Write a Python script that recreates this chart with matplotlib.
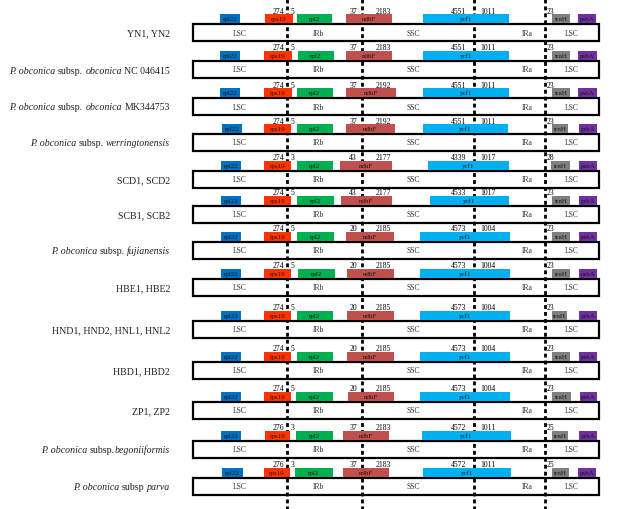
import matplotlib
matplotlib.use("Agg")
import matplotlib.pyplot as plt
from matplotlib.patches import Rectangle

plt.rcParams['font.family'] = ['Liberation Serif', 'DejaVu Serif']

# ---------------------------------------------------------------- data
# each sample label is a list of (piece, italic, space_before_next)
sample_labels = [
    [("YN1, YN2", False, True)],
    [("P. obconica", True, True), ("subsp.", False, True), ("obconica", True, True), ("NC 046415", False, True)],
    [("P. obconica", True, True), ("subsp.", False, True), ("obconica", True, True), ("MK344753", False, True)],
    [("P. obconica", True, True), ("subsp.", False, True), ("werringtonensis", True, True)],
    [("SCD1, SCD2", False, True)],
    [("SCB1, SCB2", False, True)],
    [("P. obconica", True, True), ("subsp.", False, True), ("fujianensis", True, True)],
    [("HBE1, HBE2", False, True)],
    [("HND1, HND2, HNL1, HNL2", False, True)],
    [("HBD1, HBD2", False, True)],
    [("ZP1, ZP2", False, True)],
    [("P. obconica", True, True), ("subsp.", False, False), ("begoniiformis", True, True)],
    [("P. obconica", True, True), ("subsp", False, True), ("parva", True, True)],
]

region_names = ["LSC", "IRb", "SSC", "IRa", "LSC"]
region_label_x = [240, 318, 413, 527, 572]
junction_x = [287, 362, 474, 545]

gene_names = ["rpl22", "rps19", "rpl2", "ndhF", "ycf1", "trnH", "psbA"]
gene_colors = ["#0070C0", "#FF3300", "#00B050", "#C0504D", "#00B0F0", "#7F7F7F", "#7030A0"]

# gene extents along the drawn map, one value per sample
rpl22_start = [220, 220, 220, 222, 221, 221, 221, 221, 221, 221, 221, 221, 222]
rpl22_end   = [240, 240, 240, 242, 241, 241, 241, 241, 241, 241, 241, 241, 243]
rps19_start = [265, 264, 264, 264, 264, 264, 264, 264, 264, 264, 264, 265, 264]
rps19_end   = [293, 292, 292, 291, 291, 291, 291, 291, 291, 291, 291, 290, 290]
rpl2_start  = [297, 298, 297, 297, 297, 297, 297, 298, 297, 297, 296, 296, 295]
rpl2_end    = [332, 334, 333, 333, 333, 334, 334, 335, 333, 333, 333, 333, 333]
ndhF_start  = [346, 346, 346, 346, 340, 341, 346, 347, 347, 347, 348, 343, 343]
ndhF_end    = [392, 392, 396, 395, 392, 392, 394, 394, 394, 394, 394, 389, 389]
ycf1_start  = [423, 423, 423, 423, 428, 430, 420, 420, 420, 420, 420, 422, 423]
ycf1_end    = [509, 509, 509, 508, 509, 509, 510, 510, 510, 510, 510, 511, 511]
trnH_start  = [552, 552, 552, 552, 551, 552, 552, 552, 552, 552, 552, 552, 552]
trnH_end    = [570, 570, 570, 568, 570, 570, 570, 570, 567, 570, 571, 568, 569]
psbA_start  = [578, 578, 578, 579, 579, 579, 579, 579, 579, 579, 580, 579, 578]
psbA_end    = [596, 597, 597, 597, 597, 597, 597, 597, 597, 597, 597, 597, 596]

gene_starts = [rpl22_start, rps19_start, rpl2_start, ndhF_start, ycf1_start, trnH_start, psbA_start]
gene_ends = [rpl22_end, rps19_end, rpl2_end, ndhF_end, ycf1_end, trnH_end, psbA_end]

# distances (bp) written beside the junctions
rps19_in_lsc = [274, 274, 274, 274, 274, 274, 274, 274, 274, 274, 274, 276, 276]
rps19_in_irb = [5, 5, 5, 5, 3, 5, 5, 5, 5, 5, 5, 3, 3]
ndhF_in_irb  = [37, 37, 37, 37, 43, 43, 20, 20, 20, 20, 20, 37, 37]
ndhF_in_ssc  = [2183, 2183, 2192, 2192, 2177, 2177, 2185, 2185, 2185, 2185, 2185, 2183, 2183]
ycf1_in_ssc  = [4551, 4551, 4551, 4551, 4339, 4533, 4573, 4573, 4573, 4573, 4573, 4572, 4572]
ycf1_in_ira  = [1011, 1011, 1011, 1011, 1017, 1017, 1004, 1004, 1004, 1004, 1004, 1011, 1011]
trnH_gap     = [23, 23, 23, 23, 28, 23, 23, 23, 23, 23, 23, 25, 25]

# ---------------------------------------------------------------- layout
row_top = [25, 62, 99, 135, 172, 207, 243, 280, 322, 363, 403, 442, 479]
track_h = 17
track_x0, track_x1 = 193, 599
gene_h = 9
label_fs = 7.1

fig = plt.figure(figsize=(6.2, 5.1), dpi=100)
ax = fig.add_axes([0, 0, 1, 1])
ax.set_xlim(0, 620)
ax.set_ylim(510, 0)
ax.axis("off")

for x in junction_x:
    ax.plot([x, x], [0, 510], color="black", lw=2.0, linestyle=(0, (1.4, 1.1)), zorder=3)


def draw_label(pieces, y):
    # place pieces right to left, each one glued to the left edge of the next
    nxt = None
    for text, italic, gap in reversed(pieces):
        style = "italic" if italic else "normal"
        if nxt is None:
            nxt = ax.text(170, y, text, ha="right", va="baseline", fontsize=label_fs,
                          style=style, color="#222222")
        else:
            space = label_fs * 0.25 if gap else 0
            nxt = ax.annotate(text, xy=(0, y), xycoords=(nxt, "data"),
                              xytext=(-space, 0), textcoords="offset points",
                              ha="right", va="baseline", fontsize=label_fs,
                              style=style, color="#222222")


for i, top in enumerate(row_top):
    mid = top + track_h / 2

    draw_label(sample_labels[i], mid + 3)

    ax.add_patch(Rectangle((track_x0, top), track_x1 - track_x0, track_h,
                           fill=False, edgecolor="black", lw=1.6, zorder=2))
    for name, lx in zip(region_names, region_label_x):
        ax.text(lx, mid, name, ha="center", va="center", fontsize=5.5, color="#333333", zorder=5)

    for g, name in enumerate(gene_names):
        s = gene_starts[g][i]
        e = gene_ends[g][i]
        ax.add_patch(Rectangle((s, top - gene_h - 1), e - s, gene_h,
                               facecolor=gene_colors[g], edgecolor="none", zorder=4))
        ax.text((s + e) / 2, top - 1 - gene_h / 2, name, ha="center", va="center",
                fontsize=5, color="#1a1a1a", zorder=5)

    ny = top - gene_h - 0.5
    fs = 5.5
    ax.text(junction_x[0] - 3, ny, str(rps19_in_lsc[i]), ha="right", va="bottom", fontsize=fs, zorder=5)
    ax.text(junction_x[0] + 4, ny, str(rps19_in_irb[i]), ha="left", va="bottom", fontsize=fs, zorder=5)
    ax.text(junction_x[1] - 5, ny, str(ndhF_in_irb[i]), ha="right", va="bottom", fontsize=fs, zorder=5)
    ax.text(junction_x[1] + 14, ny, str(ndhF_in_ssc[i]), ha="left", va="bottom", fontsize=fs, zorder=5)
    ax.text(junction_x[2] - 8, ny, str(ycf1_in_ssc[i]), ha="right", va="bottom", fontsize=fs, zorder=5)
    ax.text(junction_x[2] + 6, ny, str(ycf1_in_ira[i]), ha="left", va="bottom", fontsize=fs, zorder=5)
    ax.text(junction_x[3] + 2, ny, str(trnH_gap[i]), ha="left", va="bottom", fontsize=fs, zorder=5)

fig.savefig("out.png", dpi=100, facecolor="white")
